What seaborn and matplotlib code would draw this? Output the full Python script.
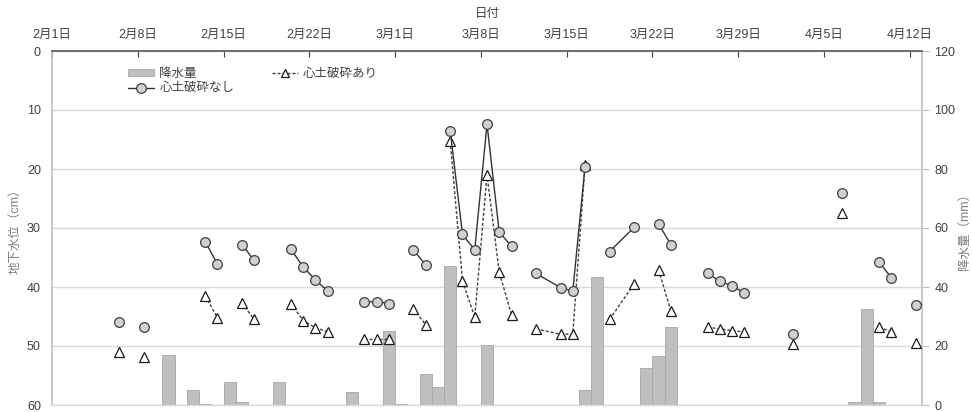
import datetime as dt

import matplotlib
matplotlib.use("Agg")
import matplotlib.pyplot as plt
import numpy as np
import pandas as pd
import seaborn as sns
from matplotlib.lines import Line2D
from matplotlib.patches import Patch
from matplotlib.ticker import FixedLocator, FuncFormatter, MultipleLocator

# ---------------------------------------------------------------- data
YEAR = 2023
START = dt.date(YEAR, 2, 1)

# observation dates (month/day) and the run of consecutive readings each belongs to
obs_dates = [
    "2/6", "2/8", "2/13", "2/14", "2/16", "2/17",
    "2/20", "2/21", "2/22", "2/23", "2/26", "2/27", "2/28",
    "3/2", "3/3", "3/5", "3/6", "3/7", "3/8", "3/9", "3/10",
    "3/12", "3/14", "3/15", "3/16", "3/18", "3/20", "3/22", "3/23",
    "3/26", "3/27", "3/28", "3/29", "4/2", "4/6", "4/9", "4/10", "4/12",
]
obs_run = [
    1, 2, 3, 3, 4, 4,
    5, 5, 5, 5, 6, 6, 6,
    7, 7, 8, 8, 8, 8, 8, 8,
    9, 9, 9, 9, 10, 10, 11, 11,
    12, 12, 12, 12, 13, 14, 15, 15, 16,
]
# groundwater level below surface (cm)
level_unbroken = [
    45.9, 46.7, 32.3, 36.1, 32.8, 35.5,
    33.6, 36.6, 38.8, 40.7, 42.5, 42.5, 42.8,
    33.7, 36.3, 13.5, 31.1, 33.7, 12.4, 30.7, 33.1,
    37.7, 40.1, 40.7, 19.6, 34.0, 29.9, 29.3, 32.8,
    37.7, 39.0, 39.8, 41.0, 47.9, 24.1, 35.8, 38.4, 43.0,
]
level_broken = [
    51.1, 51.9, 41.5, 45.2, 42.7, 45.5,
    42.8, 45.7, 46.9, 47.6, 48.8, 48.8, 48.8,
    43.7, 46.4, 15.3, 39.0, 45.1, 21.0, 37.5, 44.7,
    47.1, 48.0, 48.0, 19.3, 45.5, 39.5, 37.1, 44.0,
    46.8, 47.1, 47.4, 47.6, 49.6, 27.5, 46.8, 47.6, 49.5,
]

# daily precipitation (mm)
rain_dates = [
    "2/10", "2/12", "2/13", "2/15", "2/16", "2/19", "2/25", "2/28", "3/1",
    "3/3", "3/4", "3/5", "3/8", "3/16", "3/17", "3/21", "3/22", "3/23",
    "4/7", "4/8", "4/9",
]
rain_mm = [
    17.0, 5.1, 0.5, 7.7, 1.0, 7.7, 4.5, 25.1, 0.5,
    10.5, 6.2, 47.1, 20.3, 5.1, 43.5, 12.6, 16.5, 26.5,
    1.0, 32.4, 1.0,
]

tick_step_days = 7
axis_days = 71  # 2/1 through 4/12


def day_center(md):
    """Days since START for the middle of the given 'm/d' day."""
    m, d = (int(v) for v in md.split("/"))
    return (dt.date(YEAR, m, d) - START).days + 0.5


level_df = pd.DataFrame({
    "day": [day_center(s) for s in obs_dates],
    "run": obs_run,
    "unbroken": level_unbroken,
    "broken": level_broken,
})
rain_df = pd.DataFrame({"day": [day_center(s) for s in rain_dates], "mm": rain_mm})

# ---------------------------------------------------------------- style
sns.set_theme(style="white")
plt.rcParams["font.family"] = ["Liberation Sans", "Noto Sans CJK JP"]
plt.rcParams["font.size"] = 9

TICK_C = "#404040"
LABEL_C = "#7f7f7f"
GRID_C = "#d9d9d9"
AXIS_C = "#bfbfbf"
BAR_C = "#bfbfbf"
BAR_EC = "#a6a6a6"

W, H = 972, 412
fig = plt.figure(figsize=(W / 100, H / 100), dpi=100)
L, R, T, B = 52, 922, 51, 405
ax_rain = fig.add_axes([L / W, 1 - B / H, (R - L) / W, (B - T) / H])
ax_lvl = ax_rain.twinx()

# precipitation bars (right axis)
sns.barplot(data=rain_df, x="day", y="mm", native_scale=True, orient="x",
            width=1.0, color=BAR_C, saturation=1, edgecolor=BAR_EC,
            linewidth=0.6, errorbar=None, ax=ax_rain, zorder=2)
ax_rain.set_ylim(0, 120)
ax_rain.set_xlim(0, axis_days)
ax_rain.yaxis.set_major_locator(MultipleLocator(20))
ax_rain.tick_params(axis="y", which="major", direction="out", length=5,
                    width=0.8, color=AXIS_C, labelcolor=TICK_C, labelsize=9, pad=4)
ax_rain.yaxis.grid(True, color=GRID_C, linewidth=1)
ax_rain.set_axisbelow(True)

# date axis along the top
ax_rain.xaxis.tick_top()
ax_rain.xaxis.set_label_position("top")
ax_rain.xaxis.set_major_locator(FixedLocator(np.arange(0, axis_days, tick_step_days)))


def fmt_date(x, pos):
    d = START + dt.timedelta(days=int(round(x)))
    return f"{d.month}月{d.day}日"


ax_rain.xaxis.set_major_formatter(FuncFormatter(fmt_date))
ax_rain.tick_params(axis="x", which="major", direction="in", length=4, width=0.8,
                    color="#404040", labelcolor=TICK_C, labelsize=9, pad=7)
ax_rain.set_xlabel("日付", color=TICK_C, fontsize=9, labelpad=9)

for sp in ax_rain.spines.values():
    sp.set_visible(True)
ax_rain.spines["top"].set_color("#595959")
ax_rain.spines["top"].set_linewidth(1.2)
ax_rain.spines["right"].set_color(AXIS_C)
ax_rain.spines["right"].set_linewidth(1.2)
ax_rain.spines["left"].set_color(AXIS_C)
ax_rain.spines["left"].set_linewidth(1.2)
ax_rain.spines["bottom"].set_color(GRID_C)
ax_rain.spines["bottom"].set_linewidth(1)

# groundwater level (left axis, depth increases downward)
ax_lvl.yaxis.tick_left()
ax_lvl.yaxis.set_label_position("left")
ax_lvl.set_ylim(60, 0)
ax_lvl.yaxis.set_major_locator(MultipleLocator(10))
ax_lvl.tick_params(axis="y", length=0, labelcolor=TICK_C, labelsize=9, pad=8)
for sp in ax_lvl.spines.values():
    sp.set_visible(False)

DASH = (0, (2.2, 1.4))
sns.lineplot(data=level_df, x="day", y="broken", units="run", estimator=None,
             sort=False, color="#404040", linewidth=1, linestyle=DASH,
             marker="^", markersize=7, markerfacecolor="white",
             markeredgecolor="#1a1a1a", markeredgewidth=0.9,
             legend=False, ax=ax_lvl)
sns.lineplot(data=level_df, x="day", y="unbroken", units="run", estimator=None,
             sort=False, color="#333333", linewidth=1,
             marker="o", markersize=7, markerfacecolor="#d0d0d0",
             markeredgecolor="#404040", markeredgewidth=0.9,
             legend=False, ax=ax_lvl)
ax_lvl.set_xlim(0, axis_days)
ax_lvl.set_xlabel("")
ax_lvl.set_ylabel("地下水位（cm）", color=LABEL_C, fontsize=9, labelpad=4)

# keep the precipitation scale on the right after the twin was created
ax_rain.yaxis.tick_right()
ax_rain.set_ylabel("")
fig.text(965 / W, 1 - 228 / H, "降水量（mm）", rotation=90, ha="center",
         va="center", color=LABEL_C, fontsize=9)

handles = [
    Patch(facecolor=BAR_C, edgecolor=BAR_EC, linewidth=0.6, label="降水量"),
    Line2D([], [], color="#333333", linewidth=1, marker="o", markersize=7,
           markerfacecolor="#d0d0d0", markeredgecolor="#404040",
           markeredgewidth=0.9, label="心土破砕なし"),
    Line2D([], [], color="#404040", linewidth=1, linestyle=DASH, marker="^",
           markersize=6, markerfacecolor="white", markeredgecolor="#1a1a1a",
           markeredgewidth=0.9, label="心土破砕あり"),
]
leg = fig.legend(handles=handles, loc="upper left", ncol=2, frameon=False,
                 bbox_to_anchor=(128 / W, 1 - 68 / H), bbox_transform=fig.transFigure,
                 handlelength=2.1, handleheight=0.5, handletextpad=0.4,
                 columnspacing=3.0, labelspacing=0.2, borderpad=0, borderaxespad=0,
                 fontsize=9)
for t in leg.get_texts():
    t.set_color(TICK_C)

fig.savefig("out.png", dpi=100)
